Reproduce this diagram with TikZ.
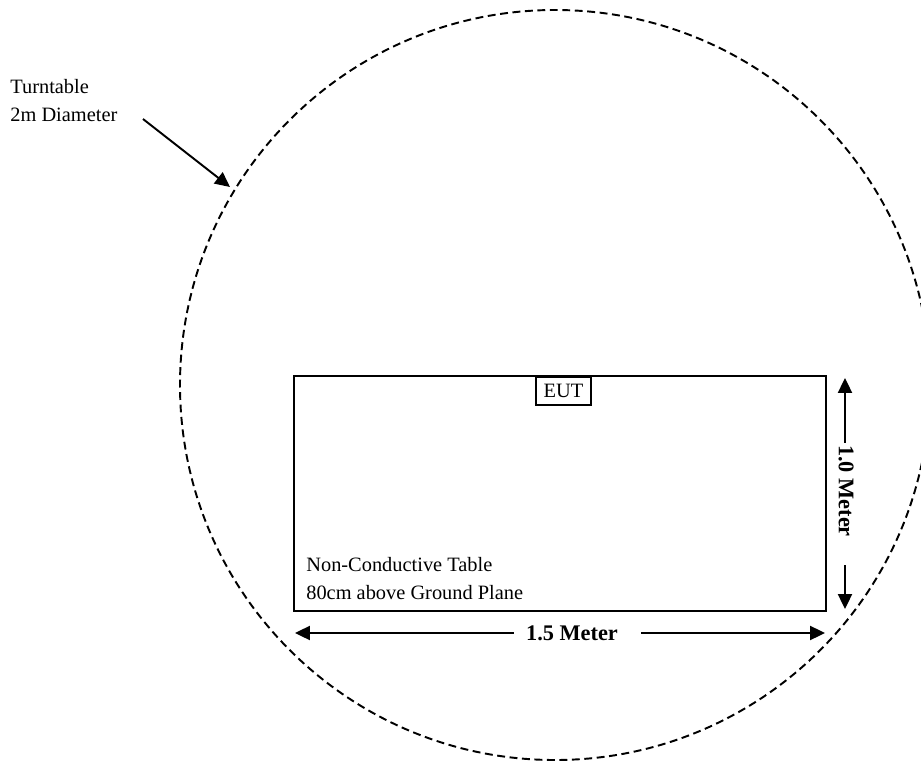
\documentclass[tikz,border=0pt]{standalone}
\usepackage{fontspec}
\setmainfont{Liberation Serif}
\usetikzlibrary{arrows.meta,calc}

\tikzset{
  dimarrow/.style={line width=1.1pt, -{Triangle[length=8.5pt,width=8pt]}},
  turnline/.style={line width=1.1pt, dash pattern=on 4.5pt off 2.6pt},
  plain/.style={font=\fontsize{11.6}{15.4}\selectfont, inner sep=0pt},
  boldlbl/.style={font=\fontsize{12.7}{15.4}\selectfont\bfseries, inner sep=0pt}
}

\begin{document}
\begin{tikzpicture}[scale=0.2]
        \useasboundingbox (0,0) rectangle (92.1,-76);
        \begin{scope}
        \clip (0,0) rectangle (92.1,-76);
        \draw [turnline] (55.5,-38.5) circle (37.5);
        \end{scope}
        % turntable label
        \node [plain, anchor=west, align=left] (ttlbl) at (1.0,-10.05) {Turntable\\2m Diameter};
        \coordinate (tstart) at (14.3,-11.9);
        \coordinate (ttip) at (23.0,-18.7);
        \draw [dimarrow] (tstart) -- (ttip);
        % table
        \draw [line width=1.5pt] (29.4,-37.6) rectangle (82.6,-61.1);
        \node [plain, draw, line width=0.6pt, minimum width=31.3pt, minimum height=15.9pt] (eut) at (56.35,-39.1) {EUT};
        \node [plain, anchor=west, align=left] (table) at (30.6,-57.85) {Non-Conductive Table\\80cm above Ground Plane};
        % 1.0 Meter
        \node [boldlbl, rotate=-90] (lenlbl) at (84.6,-49.1) {1.0 Meter};
        \coordinate (lt) at (84.5,-37.8);
        \coordinate (lb) at (84.5,-60.9);
        \draw [dimarrow] ($(lenlbl.west -| lt)+(0,0.2)$) -- (lt);
        \draw [dimarrow] ($(lenlbl.east -| lb)+(0,-2.8)$) -- (lb);
        % 1.5 Meter
        \node [boldlbl] (widlbl) at (57.2,-63.3) {1.5 Meter};
        \coordinate (wl) at (29.5,-63.3);
        \coordinate (wr) at (82.5,-63.3);
        \draw [dimarrow] ($(widlbl.west)+(-1.2,0)$) -- (wl);
        \draw [dimarrow] ($(widlbl.east)+(2.3,0)$) -- (wr);
        \end{tikzpicture}
\end{document}
